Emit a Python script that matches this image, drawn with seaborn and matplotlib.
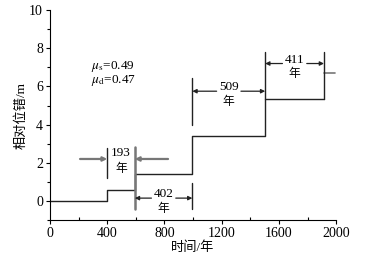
import numpy as np
import pandas as pd
import matplotlib
matplotlib.use("Agg")
import matplotlib.pyplot as plt
import seaborn as sns

# step curve: slip events
event_years = [0, 400, 593, 995, 1504, 1915]
offsets = [0, 0.6, 1.4, 3.4, 5.35, 5.35]
last_seg_x = [1915, 1995]
last_seg_y = [6.7, 6.7]

# recurrence intervals (start, end, label, arrow height)
intervals = [
    (400, 593, "193", 2.2),
    (593, 995, "402", 0.15),
    (995, 1504, "509", 5.75),
    (1504, 1915, "411", 7.2),
]
mu_s, mu_d = 0.49, 0.47

sns.set_style("ticks")
plt.rcParams["font.family"] = ["Liberation Serif", "Noto Sans CJK SC"]
plt.rcParams["mathtext.fontset"] = "stix"
plt.rcParams["text.color"] = "black"
plt.rcParams["axes.labelcolor"] = "black"
plt.rcParams["xtick.color"] = "black"
plt.rcParams["ytick.color"] = "black"
plt.rcParams["axes.edgecolor"] = "black"

fig = plt.figure(figsize=(3.65, 2.58), dpi=100)
ax = fig.add_axes([0.137, 0.147, 0.784, 0.814])

df = pd.DataFrame({"t": event_years, "d": offsets})
sns.lineplot(data=df, x="t", y="d", drawstyle="steps-post", estimator=None,
             sort=False, color="#222222", lw=1.0, ax=ax)
sns.lineplot(x=last_seg_x, y=last_seg_y, color="#777777", lw=1.2, ax=ax)

blk = "#222222"
gry = "#777777"
# marker lines
ax.plot([400, 400], [1.2, 2.8], color=blk, lw=1.0)
ax.plot([593, 593], [-0.42, 2.83], color=gry, lw=1.8)
ax.plot([995, 995], [-0.42, 0.95], color=blk, lw=1.0)
ax.plot([995, 995], [3.98, 6.45], color=blk, lw=1.0)
ax.plot([1504, 1504], [5.35, 7.8], color=blk, lw=1.0)
ax.plot([1915, 1915], [5.35, 7.8], color=blk, lw=1.0)

ap = dict(arrowstyle="-|>", color=blk, lw=0.9, mutation_scale=6, shrinkA=0, shrinkB=0)
apg = dict(arrowstyle="-|>", color=gry, lw=1.6, mutation_scale=6, shrinkA=0, shrinkB=0)

fs = 9.5
# 193: arrows from outside
s, e, lab, h = intervals[0]
ax.annotate("", xy=(s, h), xytext=(210, h), arrowprops=apg)
ax.annotate("", xy=(e, h), xytext=(825, h), arrowprops=apg)
ax.text((s + e) / 2, h + 0.3, lab, ha="center", va="center", fontsize=fs)
ax.text((s + e) / 2, h - 0.55, "年", ha="center", va="center", fontsize=fs - 1)

for s, e, lab, h in intervals[1:]:
    mid = (s + e) / 2
    gap = 85
    ax.annotate("", xy=(s, h), xytext=(mid - gap, h), arrowprops=ap)
    ax.annotate("", xy=(e, h), xytext=(mid + gap, h), arrowprops=ap)
    ax.text(mid, h + 0.2, lab, ha="center", va="center", fontsize=fs)
    ax.text(mid, h - 0.55, "年", ha="center", va="center", fontsize=fs - 1)

ax.text(290, 7.05, r"$\mu_{\rm s}$=%.2f" % mu_s, ha="left", va="center", fontsize=fs)
ax.text(290, 6.3, r"$\mu_{\rm d}$=%.2f" % mu_d, ha="left", va="center", fontsize=fs)

ax.set_xlim(0, 2000)
ax.set_ylim(-1, 10)
ax.set_xticks([0, 400, 800, 1200, 1600, 2000])
ax.set_xticks(np.arange(200, 2000, 400), minor=True)
ax.set_yticks([0, 2, 4, 6, 8, 10])
ax.set_yticks(np.arange(-1, 10, 2), minor=True)
ax.tick_params(axis="both", which="major", labelsize=fs + 0.5, length=3, width=0.8, pad=2)
ax.tick_params(axis="x", which="minor", direction="in", length=2, width=0.8)
ax.tick_params(axis="y", which="minor", direction="out", length=2, width=0.8)
ax.set_xlabel("时间/年", fontsize=fs, labelpad=1)
ax.set_ylabel("相对位错/m", fontsize=fs, labelpad=1)
sns.despine(ax=ax)
for sp in ax.spines.values():
    sp.set_linewidth(0.8)

fig.savefig("out.png", dpi=100)
